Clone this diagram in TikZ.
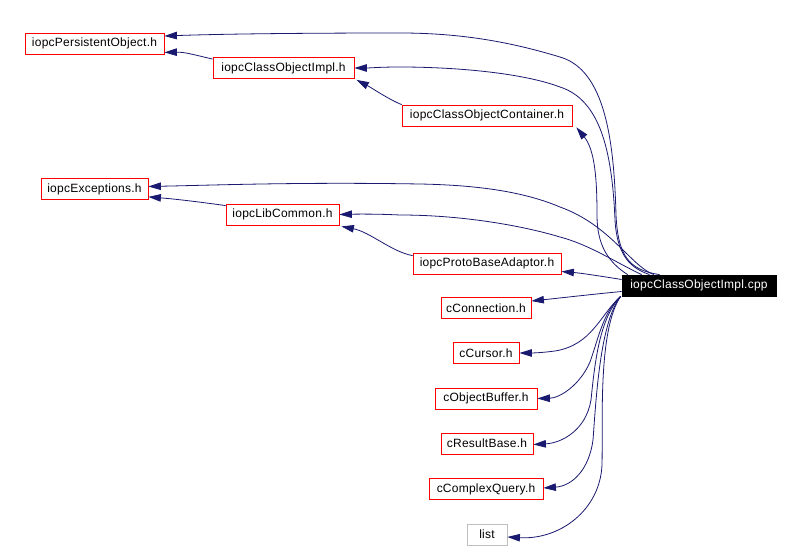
\documentclass[tikz,border=0pt]{standalone}
\usepackage{fontspec}
\setmainfont{Liberation Sans}[LetterSpace=2]
\usetikzlibrary{arrows.meta,calc}
\definecolor{edgecol}{HTML}{191970}
\definecolor{extgray}{HTML}{BFBFBF}
\begin{document}
\begin{tikzpicture}[x=1pt,y=-1pt,
  box/.style={draw=red, fill=white, line width=0.8pt, rectangle, inner sep=0pt, minimum height=21pt, font=\fontsize{12}{14}\selectfont},
  extbox/.style={box, draw=extgray},
  mainbox/.style={box, fill=black, draw=black, text=white},
  edge/.style={draw=edgecol, line width=0.8pt, -{Triangle[length=12.5pt,width=7.5pt]}}]
\useasboundingbox[fill=white] (0,0) rectangle (801,548);

\node[box, minimum width=139pt] (PO) at (94.5,43.5) {iopcPersistentObject.h};
\node[box, minimum width=141pt] (CIh) at (283.5,68) {iopcClassObjectImpl.h};
\node[box, minimum width=170pt] (Cont) at (487,115.5) {iopcClassObjectContainer.h};
\node[box, minimum width=107pt] (Exc) at (94.5,189) {iopcExceptions.h};
\node[box, minimum width=113pt] (Lib) at (282.5,214.5) {iopcLibCommon.h};
\node[box, minimum width=148pt] (Proto) at (487,263.5) {iopcProtoBaseAdaptor.h};
\node[mainbox, minimum width=154pt] (cpp) at (699,285.5) {iopcClassObjectImpl.cpp};
\node[box, minimum width=90pt] (Conn) at (486,308) {cConnection.h};
\node[box, minimum width=66pt] (Cur) at (486,353) {cCursor.h};
\node[box, minimum width=102pt] (OB) at (486,398.5) {cObjectBuffer.h};
\node[box, minimum width=92pt] (RB) at (487,443.5) {cResultBase.h};
\node[box, minimum width=114pt] (CQ) at (486,489) {cComplexQuery.h};
\node[extbox, minimum width=40pt] (list) at (487,534.5) {list};

% edges from cpp upward
\draw[edge] ([xshift=38]cpp.north west) .. controls (628,270) and (618,255) .. (616,215)
  .. controls (614,140) and (605,70) .. (560,57)
  .. controls (520,45) and (470,33) .. (400,33)
  .. controls (300,33) and (220,34) .. ([yshift=7.5]PO.east);
\draw[edge] ([xshift=28]cpp.north west) .. controls (630,268) and (617,255) .. (615,220)
  .. controls (612,150) and (600,100) .. (560,87)
  .. controls (520,72) and (450,67) .. (400,67)
  .. controls (380,67) and (370,68) .. (CIh.east);
\draw[edge] ([xshift=6]cpp.north west) .. controls (608,262) and (597,245) .. (597,215)
  .. controls (597,180) and (595,150) .. ([xshift=4,yshift=-1]Cont.south east);
\draw[edge] ([xshift=32]cpp.north west) .. controls (630,265) and (610,225) .. (560,207)
  .. controls (520,190) and (470,185) .. (420,184)
  .. controls (300,182) and (220,185) .. ([yshift=2.5]Exc.east);
\draw[edge] ([xshift=20]cpp.north west) .. controls (615,262) and (590,245) .. (560,237)
  .. controls (520,225) and (460,215) .. (400,215)
  .. controls (380,214) and (360,214) .. (Lib.east);
% header-to-header edges
\draw[edge] ([yshift=-2]CIh.north west) .. controls (195,55) and (185,52) .. ([yshift=2]PO.south east);
\draw[edge] (Cont.north west) .. controls (388,99) and (372,88) .. ([xshift=2,yshift=-1]CIh.south east);
\draw[edge] ([yshift=-2]Lib.north west) .. controls (200,202) and (175,199) .. ([yshift=3]Exc.south east);
\draw[edge] ([yshift=-3]Proto.north west) .. controls (392,252) and (370,232) .. ([xshift=2,yshift=-1]Lib.south east);
% edges from cpp leftward / downward
\draw[edge] ([yshift=6]cpp.west) .. controls (600,276) and (580,273) .. ([yshift=-8]Proto.east);
\draw[edge] ([yshift=-6]cpp.west) .. controls (595,294) and (560,298) .. ([yshift=7]Conn.east);
\draw[edge] ([xshift=-1]cpp.south west) .. controls (600,315) and (592,345) .. (555,351)
  .. controls (540,353) and (530,353) .. (Cur.east);
\draw[edge] ([xshift=-1]cpp.south west) .. controls (603,312) and (598,340) .. (590,362)
  .. controls (580,385) and (560,398) .. (OB.east);
\draw[edge] ([xshift=-1]cpp.south west) .. controls (600,318) and (595,360) .. (591,400)
  .. controls (586,430) and (562,443) .. ([yshift=-1]RB.east);
\draw[edge] ([xshift=-1]cpp.south west) .. controls (600,322) and (596,400) .. (593,440)
  .. controls (589,470) and (572,486) .. ([yshift=1]CQ.east);
\draw[edge] ([xshift=-1]cpp.south west) .. controls (598,330) and (603,420) .. (602,465)
  .. controls (600,510) and (560,540) .. ([yshift=-2.5]list.east);
\end{tikzpicture}
\end{document}
